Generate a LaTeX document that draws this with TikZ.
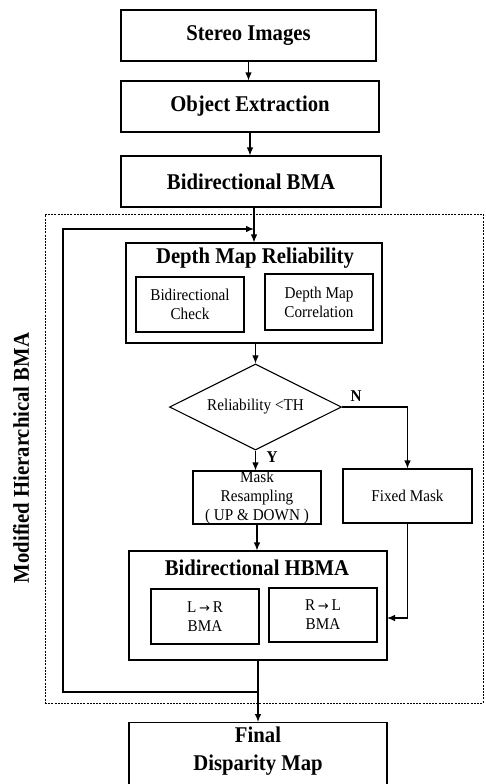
\documentclass[tikz,border=0pt]{standalone}
\usepackage{fontspec}
\setmainfont[FakeStretch=0.92]{Liberation Serif}
\newfontfamily\arrowfont{DejaVu Sans}
\usetikzlibrary{calc}
\usetikzlibrary{arrows.meta}
\usetikzlibrary{shapes.geometric}

\tikzset{
  stage/.style={draw, line width=1.1pt, inner sep=0pt},
  bigtext/.style={font=\fontsize{22.5}{28}\selectfont\bfseries, align=center},
  smalltext/.style={font=\fontsize{16.5}{19}\selectfont, align=center},
  flow/.style={line width=1.1pt, -{Latex[length=8pt,width=6.5pt]}},
}

\newcommand{\rarr}{\,{\arrowfont\fontsize{13}{13}\selectfont →}\,}

\begin{document}
\begin{tikzpicture}[x=1pt,y=-1pt]
\useasboundingbox (0,0) rectangle (486,784);
\clip (0,0) rectangle (486,784);

\newcommand{\flowedge}[2]{
    \draw[flow] (#1) -- (#1 |- #2);
}

% main chain
\node[stage, bigtext, minimum width=255pt, minimum height=51pt] (stereo) at (248.5,35.5) {Stereo Images};
\node[stage, bigtext, minimum width=258pt, minimum height=51pt] (object) at (250,106.5) {Object Extraction};
\node[stage, bigtext, minimum width=260pt, minimum height=51pt] (bbma) at (251,181.5) {Bidirectional BMA};

% modified hierarchical BMA region
\node[draw, dash pattern=on 2pt off 1.2pt, line width=0.8pt, minimum width=438pt, minimum height=489pt] (region) at (264,458.5) {};
\node[bigtext, rotate=90] (regionlabel) at (21,458) {Modified Hierarchical BMA};

\node[stage, minimum width=256pt, minimum height=100pt] (dmr) at (254,293) {};
\node[bigtext] (dmrtitle) at (255,258) {Depth Map Reliability};
\node[stage, smalltext, minimum width=108pt, minimum height=55pt] (bicheck) at (190,304.5) {Bidirectional\\Check};
\node[stage, smalltext, minimum width=108pt, minimum height=56pt] (corr) at (319,302) {Depth Map\\Correlation};

\node[draw, diamond, aspect=2, line width=1.1pt, minimum width=172pt, minimum height=86pt, inner sep=0pt, smalltext] (reliab) at (255.5,407) {Reliability <TH};

\node[stage, minimum width=128pt, minimum height=53pt] (mask) at (257,497.5) {};
\node[smalltext] (masktext) at (257,498) {Mask\\Resampling\\( UP \& DOWN )};
\node[stage, smalltext, minimum width=129pt, minimum height=54pt] (fixed) at (407.5,496) {Fixed Mask};

\node[stage, minimum width=258pt, minimum height=109pt] (hbma) at (258,605.5) {};
\node[bigtext] (hbmatitle) at (257,568) {Bidirectional HBMA};
\node[stage, smalltext, minimum width=108pt, minimum height=55pt] (lr) at (205,616.5) {L\rarr R\\BMA};
\node[stage, smalltext, minimum width=108pt, minimum height=54pt] (rl) at (323,615) {R\rarr L\\BMA};

\node[stage, minimum width=258pt, minimum height=90pt, anchor=north] (final) at (258,722) {};
\node[bigtext] (finaltext) at (258,751) {Final\\Disparity Map};

\coordinate (looptop) at (254,229);
\coordinate (loopcorner) at (63,229);
\coordinate (loopbot) at (258,692);
\coordinate (hbmain) at (387,618);

% connectors
\flowedge{stereo.south}{object.north}
\flowedge{object.south}{bbma.north}
\draw[flow] (bbma.south -| looptop) -- (looptop |- dmr.north);
\draw[flow] (reliab.north |- dmr.south) -- (reliab.north);
\flowedge{reliab.south}{mask.north}
\draw[flow] (reliab.east) -| (fixed.north);
\flowedge{mask.south}{hbma.north}
\draw[flow] (fixed.south) |- (hbmain);
\flowedge{hbma.south}{final.north}
\draw[flow] (loopbot) -| (loopcorner) -- (looptop);

\node[font=\fontsize{16.5}{19}\selectfont\bfseries] (nlabel) at (356,396) {N};
\node[font=\fontsize{16.5}{19}\selectfont\bfseries] (ylabel) at (272,457) {Y};
\end{tikzpicture}
\end{document}
